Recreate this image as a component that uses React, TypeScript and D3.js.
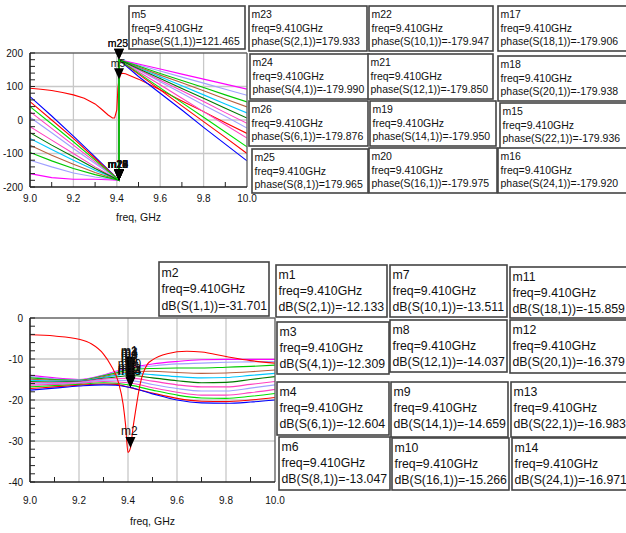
import React from 'react';
import * as d3 from 'd3';

// ---------- DATA ----------
const markerFreq = 9.41;

// Top plot: phase (deg)
const phaseFreqs = [9.0, 9.1, 9.2, 9.3, 9.41, 9.41, 9.5, 9.6, 9.7, 9.8, 9.9, 10.0];
const phase_S2_1 = [-160, -172, -177, -177, -179.9, 179.9, 167, 152, 137, 122, 107, 92];
const phase_S4_1 = [-120, -140, -158, -170, -179.9, 179.9, 164, 146, 128, 110, 92, 74];
const phase_S6_1 = [-97, -122, -145, -163, -179.9, 179.9, 161, 139, 118, 97, 75, 54];
const phase_S8_1 = [-75, -105, -132, -157, -179.9, 179.9, 158, 134, 111, 87, 63, 39];
const phase_S10_1 = [-55, -88, -120, -150, -179.9, 179.9, 156, 129, 102, 75, 48, 21];
const phase_S12_1 = [-38, -75, -110, -145, -179.9, 179.9, 153, 124, 94, 65, 35, 6];
const phase_S14_1 = [-20, -60, -100, -140, -179.9, 179.9, 151, 119, 87, 55, 22, -10];
const phase_S16_1 = [8, -38, -85, -130, -179.9, 179.9, 149, 114, 80, 45, 11, -24];
const phase_S18_1 = [25, -25, -75, -125, -179.9, 179.9, 144, 105, 65, 25, -14, -54];
const phase_S20_1 = [40, -12, -65, -120, -179.9, 179.9, 140, 96, 52, 8, -36, -80];
const phase_S22_1 = [55, 0, -55, -115, -179.9, 179.9, 137, 90, 42, -5, -52, -100];
const phase_S24_1 = [70, 12, -48, -110, -179.9, 179.9, 130, 80, 30, -22, -72, -122];

const s11PhaseFreqs = [9.0, 9.05, 9.1, 9.15, 9.2, 9.25, 9.3, 9.33, 9.36, 9.38, 9.39, 9.4, 9.405, 9.41, 9.42, 9.44, 9.5, 9.6, 9.7, 9.8, 9.9, 10.0];
const s11Phase = [95, 92, 88, 82, 75, 65, 48, 32, 15, 6, 6, 30, 95, 121, 140, 138, 122, 90, 57, 25, -8, -40];

// Bottom plot: magnitude (dB)
const dbFreqs = [9.0, 9.1, 9.2, 9.3, 9.35, 9.41, 9.5, 9.6, 9.7, 9.8, 9.9, 10.0];
const db_S2_1 = [-14.0, -14.6, -15.0, -13.9, -13.0, -12.13, -11.2, -10.6, -10.2, -10.1, -10.1, -10.1];
const db_S4_1 = [-14.3, -14.8, -15.1, -14.0, -13.2, -12.31, -11.7, -11.2, -11.0, -10.8, -10.7, -10.6];
const db_S6_1 = [-14.6, -15.0, -15.2, -14.1, -13.4, -12.6, -12.3, -12.2, -12.2, -12.0, -11.8, -11.5];
const db_S8_1 = [-14.9, -15.2, -15.3, -14.3, -13.7, -13.05, -13.0, -13.3, -13.5, -13.4, -13.1, -12.7];
const db_S10_1 = [-15.2, -15.4, -15.4, -14.5, -14.0, -13.51, -13.8, -14.3, -14.6, -14.5, -14.0, -13.5];
const db_S12_1 = [-15.5, -15.6, -15.5, -14.7, -14.4, -14.04, -14.6, -15.3, -15.8, -15.7, -15.0, -14.3];
const db_S14_1 = [-15.8, -15.8, -15.6, -14.9, -14.8, -14.66, -15.4, -16.3, -16.8, -16.8, -16.2, -15.5];
const db_S16_1 = [-16.1, -16.0, -15.8, -15.2, -15.2, -15.27, -16.2, -17.2, -17.8, -17.8, -17.1, -16.3];
const db_S18_1 = [-16.4, -16.2, -16.0, -15.5, -15.6, -15.86, -17.0, -18.1, -18.8, -18.8, -18.2, -17.4];
const db_S20_1 = [-16.8, -16.5, -16.2, -15.8, -15.9, -16.38, -17.6, -18.8, -19.5, -19.6, -19.1, -18.4];
const db_S22_1 = [-17.2, -16.8, -16.4, -16.1, -16.2, -16.98, -18.3, -19.6, -20.3, -20.4, -20.0, -19.4];
const db_S24_1 = [-17.6, -17.1, -16.6, -16.3, -16.4, -16.97, -18.5, -20.0, -20.7, -20.8, -20.5, -20.0];

const s11DbFreqs = [9.0, 9.1, 9.2, 9.25, 9.3, 9.33, 9.36, 9.38, 9.39, 9.4, 9.41, 9.42, 9.43, 9.45, 9.48, 9.5, 9.56, 9.64, 9.7, 9.8, 9.9, 10.0];
const s11Db = [-4.1, -4.4, -5.2, -6.3, -8.8, -11.5, -15.5, -21, -26, -32.8, -31.7, -27, -23, -16, -11.2, -10.2, -8.7, -8.1, -8.3, -9.4, -10.4, -11.0];

// Markers
const phaseMarkerNames = ['m5', 'm23', 'm24', 'm26', 'm25', 'm22', 'm21', 'm19', 'm20', 'm17', 'm18', 'm15', 'm16'];
const phaseMarkerPorts = ['1,1', '2,1', '4,1', '6,1', '8,1', '10,1', '12,1', '14,1', '16,1', '18,1', '20,1', '22,1', '24,1'];
const phaseMarkerValues = [121.465, 179.933, -179.99, -179.876, 179.965, -179.947, -179.85, -179.95, -179.975, -179.906, -179.938, -179.936, -179.92];

const dbMarkerNames = ['m2', 'm1', 'm3', 'm4', 'm6', 'm7', 'm8', 'm9', 'm10', 'm11', 'm12', 'm13', 'm14'];
const dbMarkerPorts = ['1,1', '2,1', '4,1', '6,1', '8,1', '10,1', '12,1', '14,1', '16,1', '18,1', '20,1', '22,1', '24,1'];
const dbMarkerValues = [-31.701, -12.133, -12.309, -12.604, -13.047, -13.511, -14.037, -14.659, -15.266, -15.859, -16.379, -16.983, -16.971];

const phaseTicks = [-200, -100, 0, 100, 200];
const dbTicks = [-40, -30, -20, -10, 0];
const freqTicks = [9.0, 9.2, 9.4, 9.6, 9.8, 10.0];

// ---------- STYLE / LAYOUT ----------
const FONT = "'Liberation Sans', Arial, sans-serif";
const transColors = ['#ff00ff', '#a0a0ff', '#00c800', '#b86040', '#00c8ff', '#007800', '#ff40c0', '#a0a0ff', '#ff40c0', '#00e000', '#ff0000', '#0000ff'];
const phaseDrawOrder = [11, 10, 8, 7, 6, 4, 3, 1, 0, 2, 5, 9];
const s11Color = '#ff0000';

const phaseBoxes = [
  [129, 6, 116, 43], [249, 6, 118, 45], [250, 54, 119, 45], [249, 101, 119, 45], [252, 149, 116, 44],
  [369, 6, 124, 45], [368, 54, 125, 45], [370, 101, 126, 45], [369, 148, 128, 45],
  [498, 6, 130, 45], [498, 56, 130, 45], [500, 103, 128, 46], [498, 148, 130, 45],
];
const dbBoxes = [
  [159, 262, 110, 54], [276, 265, 111, 52], [277, 322, 112, 52], [277, 382, 112, 53], [279, 437, 111, 53],
  [390, 265, 117, 52], [390, 320, 117, 52], [391, 382, 117, 55], [392, 438, 117, 52],
  [510, 267, 118, 51], [510, 320, 118, 53], [511, 382, 117, 55], [512, 438, 116, 52],
];

const topX = d3.scaleLinear().domain([9, 10]).range([30, 247]);
const topY = d3.scaleLinear().domain([-200, 200]).range([187, 53]);
const botX = d3.scaleLinear().domain([9, 10]).range([30, 275]);
const botY = d3.scaleLinear().domain([-40, 0]).range([482, 318]);

const phaseSeries = [phase_S2_1, phase_S4_1, phase_S6_1, phase_S8_1, phase_S10_1, phase_S12_1, phase_S14_1, phase_S16_1, phase_S18_1, phase_S20_1, phase_S22_1, phase_S24_1];
const dbSeries = [db_S2_1, db_S4_1, db_S6_1, db_S8_1, db_S10_1, db_S12_1, db_S14_1, db_S16_1, db_S18_1, db_S20_1, db_S22_1, db_S24_1];

function Plot({ sx, sy, yTicks, yMinorStep, clipId, children, xLabelY, axisTitleY }: any) {
  const [x0, x1] = sx.range();
  const [y0, y1] = sy.range(); // y0 bottom, y1 top
  const [d0, d1] = sy.domain();
  const yMinor: number[] = [];
  for (let v = d0; v <= d1 + 1e-9; v += yMinorStep) yMinor.push(v);
  const xMinor = d3.range(9.1, 10, 0.2);
  return (
    <g>
      <defs>
        <clipPath id={clipId}>
          <rect x={x0} y={y1} width={x1 - x0} height={y0 - y1} />
        </clipPath>
      </defs>
      {yTicks.slice(1, -1).map((t: number) => (
        <line key={'gy' + t} x1={x0} x2={x1} y1={sy(t)} y2={sy(t)} stroke="#c8c8c8" strokeWidth={1.3} />
      ))}
      {freqTicks.slice(1, -1).map((t) => (
        <line key={'gx' + t} x1={sx(t)} x2={sx(t)} y1={y0} y2={y1} stroke="#c8c8c8" strokeWidth={1.3} />
      ))}
      <g clipPath={`url(#${clipId})`}>{children}</g>
      <line x1={x0} x2={x1} y1={y1} y2={y1} stroke="#666" strokeWidth={1.6} />
      <line x1={x1} x2={x1} y1={y0} y2={y1} stroke="#666" strokeWidth={1.4} />
      <line x1={x0} x2={x0} y1={y0} y2={y1} stroke="#222" strokeWidth={1.6} />
      <line x1={x0} x2={x1} y1={y0} y2={y0} stroke="#222" strokeWidth={1.6} />
      {yMinor.map((v) => (
        <line key={'my' + v} x1={x0} x2={x0 + 5} y1={sy(v)} y2={sy(v)} stroke="#222" strokeWidth={1} />
      ))}
      {xMinor.map((v) => (
        <line key={'mx' + v} x1={sx(v)} x2={sx(v)} y1={y0} y2={y0 - 5} stroke="#222" strokeWidth={1} />
      ))}
      {yTicks.map((t: number) => (
        <text key={'ly' + t} x={x0 - 7} y={sy(t)} dy="0.35em" textAnchor="end" fontSize={10} fontFamily={FONT} fill="#111">{t}</text>
      ))}
      {freqTicks.map((t) => (
        <text key={'lx' + t} x={sx(t)} y={xLabelY} textAnchor="middle" fontSize={10} fontFamily={FONT} fill="#111">{t.toFixed(1)}</text>
      ))}
      <text x={(x0 + x1) / 2} y={axisTitleY} textAnchor="middle" fontSize={10.5} fontFamily={FONT} fill="#111">freq, GHz</text>
    </g>
  );
}

function Marker({ x, y, name, fs }: any) {
  return (
    <g>
      <path d={`M${x - 5},${y - 11}L${x + 5},${y - 11}L${x},${y}Z`} fill="#000" />
      <text x={x - 1} y={y - 12.5} textAnchor="middle" fontSize={fs} fontFamily={FONT} fill="#111">{name}</text>
    </g>
  );
}

function Box({ b, lines, fs, offs }: any) {
  const [x, y, w, h] = b;
  return (
    <g>
      <rect x={x} y={y} width={w} height={h} fill="#fff" stroke="#444" strokeWidth={1.6} />
      {lines.map((t: string, i: number) => (
        <text key={i} x={x + 2.5} y={y + offs[i]} fontSize={fs} fontFamily={FONT} fill="#111">{t}</text>
      ))}
    </g>
  );
}

export default function App() {
  const lineTop = d3.line<[number, number]>().x((d) => topX(d[0])).y((d) => topY(d[1]));
  const lineBot = d3.line<[number, number]>().x((d) => botX(d[0])).y((d) => botY(d[1])).curve(d3.curveMonotoneX);

  return (
    <svg width={626} height={533} style={{ position: 'absolute', left: 0, top: 0, background: '#fff' }}>
      <rect x={0} y={0} width={626} height={533} fill="#fff" />
      <Plot sx={topX} sy={topY} yTicks={phaseTicks} yMinorStep={20} clipId="clipTop" xLabelY={202} axisTitleY={221}>
        <path d={lineTop(s11PhaseFreqs.map((f, j) => [f, s11Phase[j]]) as any) || ''} fill="none" stroke={s11Color} strokeWidth={1.1} />
        {phaseDrawOrder.map((i) => (
          <path key={i} d={lineTop(phaseFreqs.map((f, j) => [f, phaseSeries[i][j]]) as any) || ''} fill="none" stroke={transColors[i]} strokeWidth={1.1} />
        ))}
      </Plot>
      <Plot sx={botX} sy={botY} yTicks={dbTicks} yMinorStep={2} clipId="clipBot" xLabelY={504} axisTitleY={525}>
        {dbSeries.map((s, i) => (
          <path key={i} d={lineBot(dbFreqs.map((f, j) => [f, s[j]]) as any) || ''} fill="none" stroke={transColors[i]} strokeWidth={1.1} />
        ))}
        <path d={lineBot(s11DbFreqs.map((f, j) => [f, s11Db[j]]) as any) || ''} fill="none" stroke={s11Color} strokeWidth={1.1} />
      </Plot>
      {phaseMarkerValues.map((v, i) => (
        <Marker key={'pm' + i} x={topX(markerFreq)} y={topY(v)} name={phaseMarkerNames[i]} fs={10.5} />
      ))}
      {dbMarkerValues.map((v, i) => (
        <Marker key={'dm' + i} x={botX(markerFreq)} y={botY(v)} name={dbMarkerNames[i]} fs={12} />
      ))}
      {phaseMarkerNames.map((n, i) => (
        <Box key={'pb' + i} b={phaseBoxes[i]} fs={10.5} offs={[12, 25.5, 39]}
          lines={[n, `freq=${markerFreq.toFixed(3)}GHz`, `phase(S(${phaseMarkerPorts[i]}))=${phaseMarkerValues[i].toFixed(3)}`]} />
      ))}
      {dbMarkerNames.map((n, i) => (
        <Box key={'db' + i} b={dbBoxes[i]} fs={12.3} offs={i === 0 ? [15, 31, 48] : [14, 30, 46]}
          lines={[n, `freq=${markerFreq.toFixed(3)}GHz`, `dB(S(${dbMarkerPorts[i]}))=${dbMarkerValues[i].toFixed(3)}`]} />
      ))}
    </svg>
  );
}
